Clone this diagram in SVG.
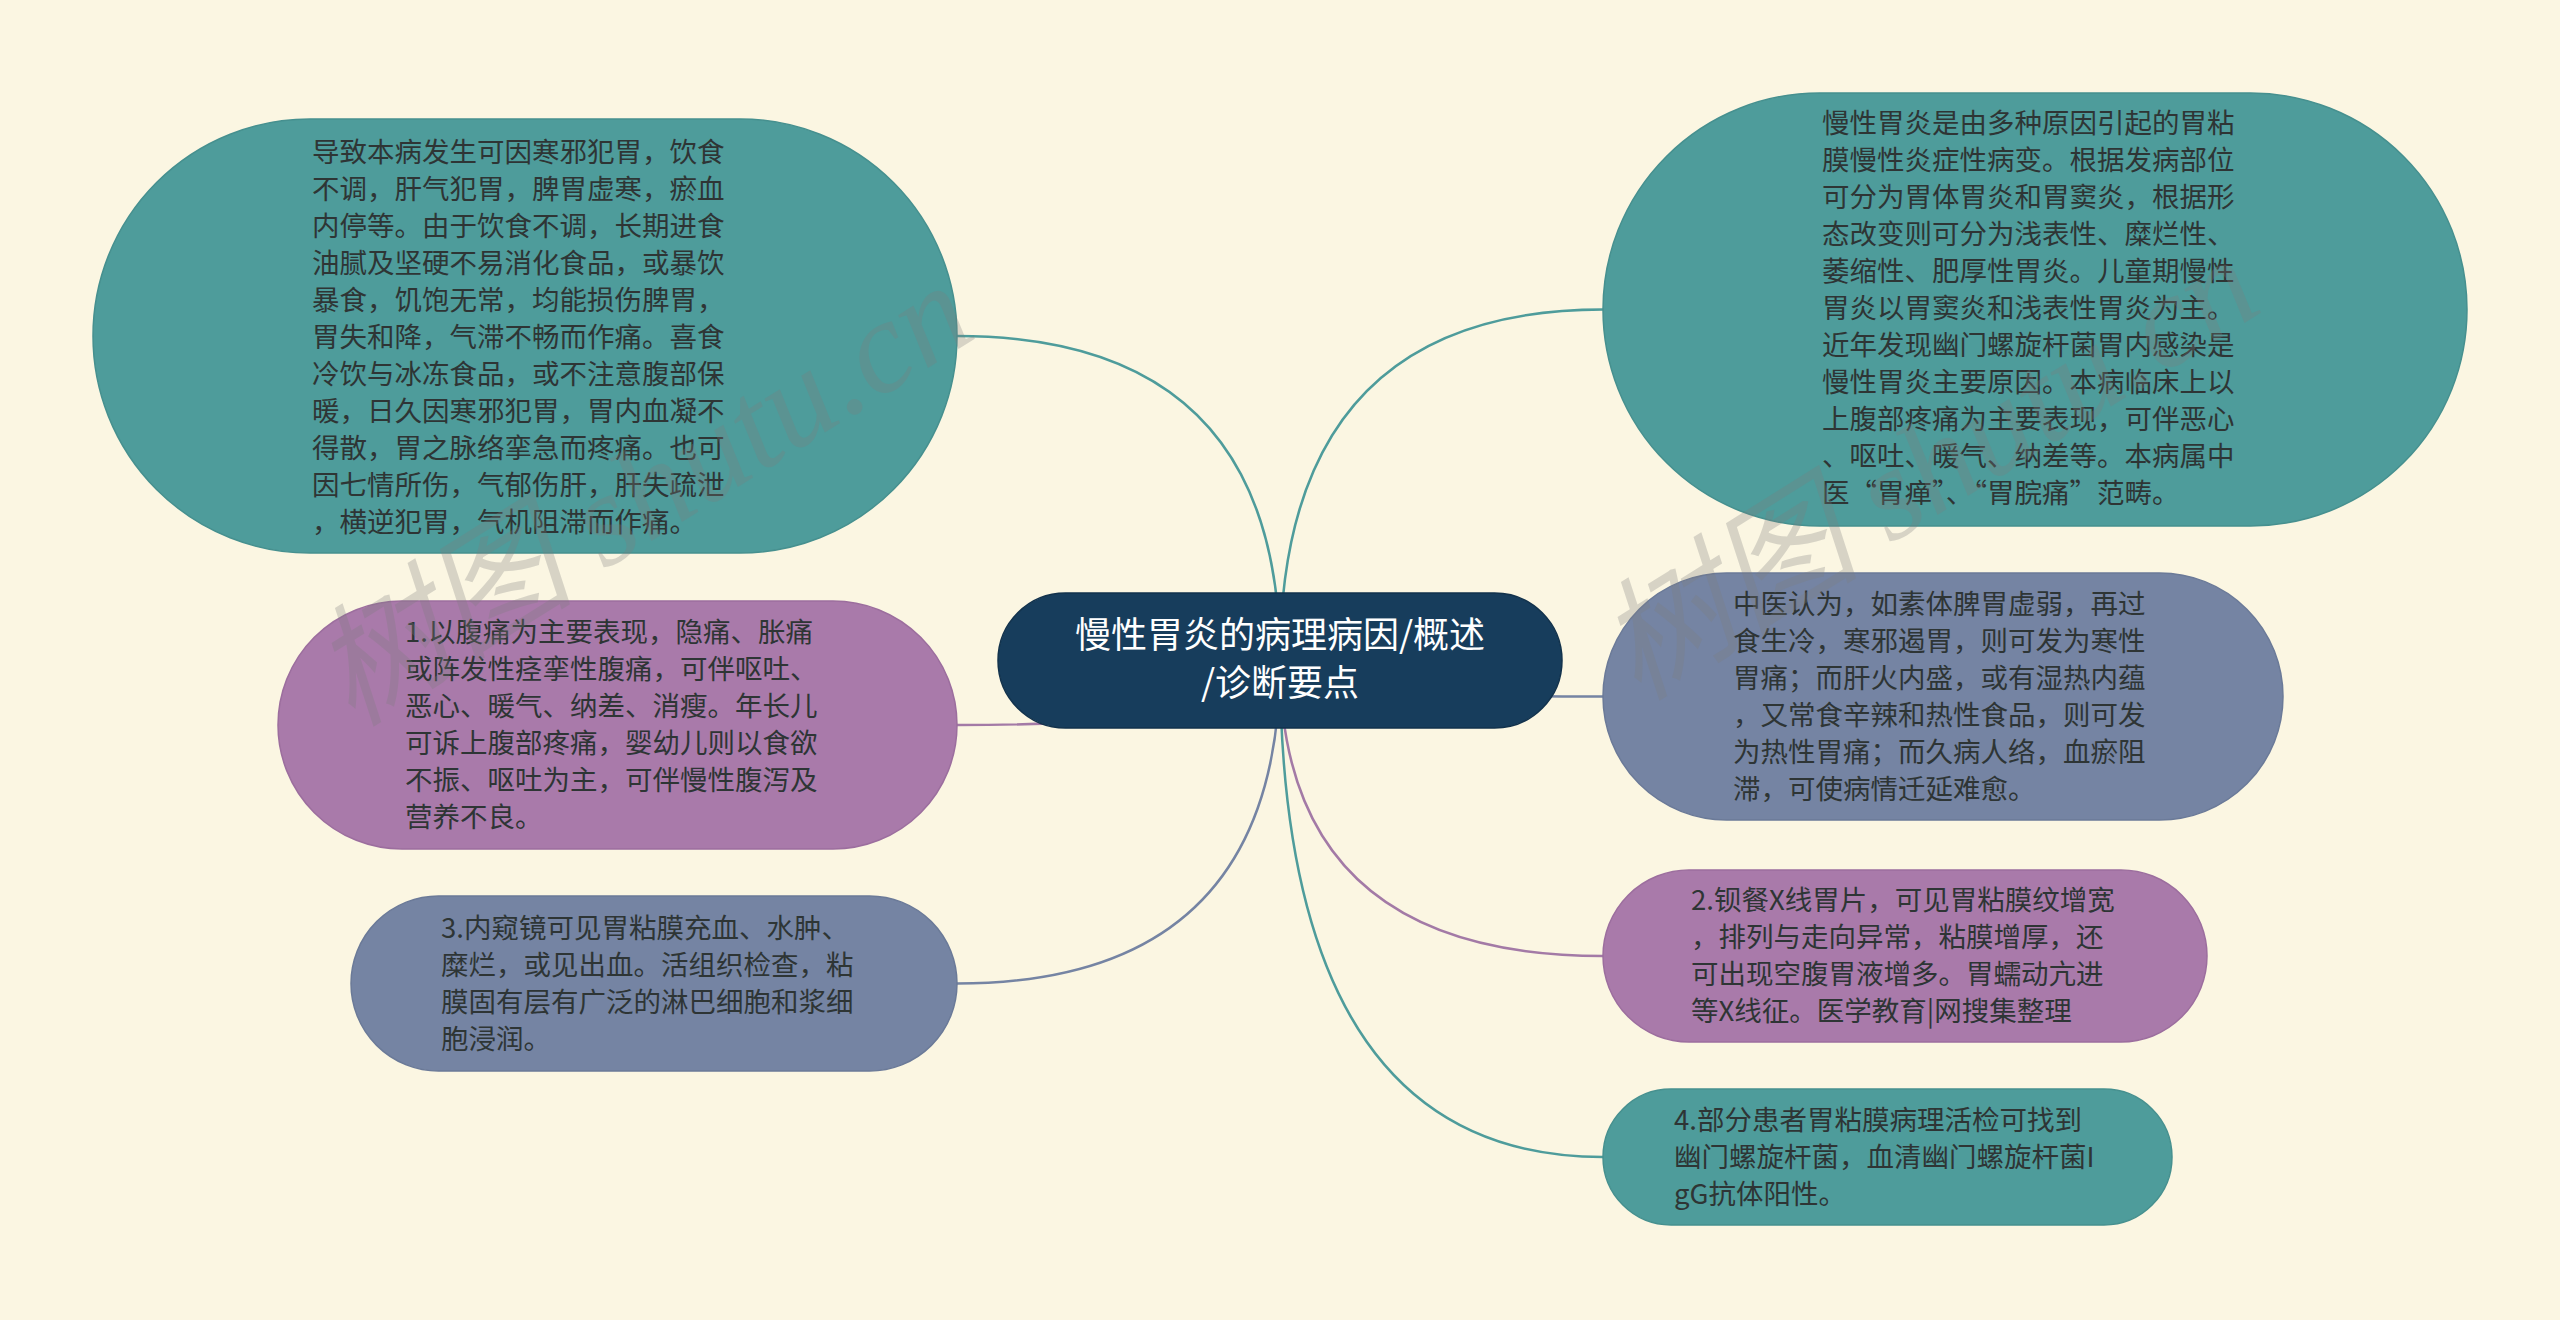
<svg xmlns="http://www.w3.org/2000/svg" width="2560" height="1320" viewBox="0 0 2560 1320">
<style>
.bg{fill:#fbf6e2}
.teal{fill:#4e9c9b;stroke:#46908f;stroke-width:1.5}
.purple{fill:#a97aaa;stroke:#9c6e9e;stroke-width:1.5}
.slate{fill:#7584a3;stroke:#6b7a98;stroke-width:1.5}
.root{fill:#173d5c;stroke:#12324c;stroke-width:1.5}
.t{font-family:"Noto Sans CJK SC","Noto Sans",sans-serif;font-size:27.5px;fill:#2e3535}
.rt{font-family:"Noto Sans CJK SC","Noto Sans",sans-serif;font-size:36px;fill:#ffffff;text-anchor:middle}
.c{fill:none;stroke-width:2.5}
.ct{stroke:#4e9c9b}
.cp{stroke:#a37aa6}
.cs{stroke:#7584a3}
.wm{font-family:"Liberation Serif","Noto Sans CJK SC",serif;font-style:italic;font-size:132px;fill:#7d7d7d;opacity:0.28}
</style>
<rect class="bg" x="0" y="0" width="2560" height="1320"/>
<g id="connectors">
<path class="c ct" d="M1280,661 Q1280,336 957,336"/>
<path class="c ct" d="M1280,661 Q1280,309.5 1603,309.5"/>
<path class="c cp" d="M1280,661 Q1280,725 957,725"/>
<path class="c cs" d="M1280,661 Q1280,696.5 1603,696.5"/>
<path class="c cs" d="M1280,661 Q1280,983.5 957,983.5"/>
<path class="c cp" d="M1280,661 Q1280,956 1603,956"/>
<path class="c ct" d="M1280,661 Q1280,1157 1603,1157"/>
</g>
<g id="node-root">
<rect class="root" x="998" y="593" width="564" height="135" rx="67.5"/>
<text class="rt" x="1280" y="648">慢性胃炎的病理病因/概述</text>
<text class="rt" x="1280" y="696">/诊断要点</text>
</g>
<g id="node-cause">
<rect class="teal" x="93" y="119" width="864" height="434" rx="217"/>
<text class="t" x="312">
<tspan x="312" y="162">导致本病发生可因寒邪犯胃，饮食</tspan>
<tspan x="312" y="199">不调，肝气犯胃，脾胃虚寒，瘀血</tspan>
<tspan x="312" y="236">内停等。由于饮食不调，长期进食</tspan>
<tspan x="312" y="273">油腻及坚硬不易消化食品，或暴饮</tspan>
<tspan x="312" y="310">暴食，饥饱无常，均能损伤脾胃，</tspan>
<tspan x="312" y="347">胃失和降，气滞不畅而作痛。喜食</tspan>
<tspan x="312" y="384">冷饮与冰冻食品，或不注意腹部保</tspan>
<tspan x="312" y="421">暖，日久因寒邪犯胃，胃内血凝不</tspan>
<tspan x="312" y="458">得散，胃之脉络挛急而疼痛。也可</tspan>
<tspan x="312" y="495">因七情所伤，气郁伤肝，肝失疏泄</tspan>
<tspan x="312" y="532">，横逆犯胃，气机阻滞而作痛。</tspan>
</text>
</g>
<g id="node-overview">
<rect class="teal" x="1603" y="93" width="864" height="433" rx="216.5"/>
<text class="t" x="1822">
<tspan x="1822" y="133">慢性胃炎是由多种原因引起的胃粘</tspan>
<tspan x="1822" y="170">膜慢性炎症性病变。根据发病部位</tspan>
<tspan x="1822" y="207">可分为胃体胃炎和胃窦炎，根据形</tspan>
<tspan x="1822" y="244">态改变则可分为浅表性、糜烂性、</tspan>
<tspan x="1822" y="281">萎缩性、肥厚性胃炎。儿童期慢性</tspan>
<tspan x="1822" y="318">胃炎以胃窦炎和浅表性胃炎为主。</tspan>
<tspan x="1822" y="355">近年发现幽门螺旋杆菌胃内感染是</tspan>
<tspan x="1822" y="392">慢性胃炎主要原因。本病临床上以</tspan>
<tspan x="1822" y="429">上腹部疼痛为主要表现，可伴恶心</tspan>
<tspan x="1822" y="466">、呕吐、暖气、纳差等。本病属中</tspan>
<tspan x="1822" y="503">医“胃瘅”、“胃脘痛”范畴。</tspan>
</text>
</g>
<g id="node-1">
<rect class="purple" x="278" y="601" width="679" height="248" rx="124"/>
<text class="t" x="405">
<tspan x="405" y="642">1.以腹痛为主要表现，隐痛、胀痛</tspan>
<tspan x="405" y="679">或阵发性痉挛性腹痛，可伴呕吐、</tspan>
<tspan x="405" y="716">恶心、暖气、纳差、消瘦。年长儿</tspan>
<tspan x="405" y="753">可诉上腹部疼痛，婴幼儿则以食欲</tspan>
<tspan x="405" y="790">不振、呕吐为主，可伴慢性腹泻及</tspan>
<tspan x="405" y="827">营养不良。</tspan>
</text>
</g>
<g id="node-tcm">
<rect class="slate" x="1603" y="573" width="680" height="247" rx="123.5"/>
<text class="t" x="1733">
<tspan x="1733" y="614">中医认为，如素体脾胃虚弱，再过</tspan>
<tspan x="1733" y="651">食生冷，寒邪遏胃，则可发为寒性</tspan>
<tspan x="1733" y="688">胃痛；而肝火内盛，或有湿热内蕴</tspan>
<tspan x="1733" y="725">，又常食辛辣和热性食品，则可发</tspan>
<tspan x="1733" y="762">为热性胃痛；而久病人络，血瘀阻</tspan>
<tspan x="1733" y="799">滞，可使病情迁延难愈。</tspan>
</text>
</g>
<g id="node-3">
<rect class="slate" x="351" y="896" width="606" height="175" rx="87.5"/>
<text class="t" x="441">
<tspan x="441" y="938">3.内窥镜可见胃粘膜充血、水肿、</tspan>
<tspan x="441" y="975">糜烂，或见出血。活组织检查，粘</tspan>
<tspan x="441" y="1012">膜固有层有广泛的淋巴细胞和浆细</tspan>
<tspan x="441" y="1049">胞浸润。</tspan>
</text>
</g>
<g id="node-2">
<rect class="purple" x="1603" y="870" width="604" height="172" rx="86"/>
<text class="t" x="1691">
<tspan x="1691" y="910">2.钡餐X线胃片，可见胃粘膜纹增宽</tspan>
<tspan x="1691" y="947">，排列与走向异常，粘膜增厚，还</tspan>
<tspan x="1691" y="984">可出现空腹胃液增多。胃蠕动亢进</tspan>
<tspan x="1691" y="1021">等X线征。医学教育|网搜集整理</tspan>
</text>
</g>
<g id="node-4">
<rect class="teal" x="1603" y="1089" width="569" height="136" rx="68"/>
<text class="t" x="1674">
<tspan x="1674" y="1130">4.部分患者胃粘膜病理活检可找到</tspan>
<tspan x="1674" y="1167">幽门螺旋杆菌，血清幽门螺旋杆菌I</tspan>
<tspan x="1674" y="1204">gG抗体阳性。</tspan>
</text>
</g>
<g id="watermark">
<text class="wm" x="0" y="0" transform="translate(352,728) rotate(-32)">树图 shutu.cn</text>
<text class="wm" x="0" y="0" transform="translate(1638,702) rotate(-32)">树图 shutu.cn</text>
</g>
</svg>
